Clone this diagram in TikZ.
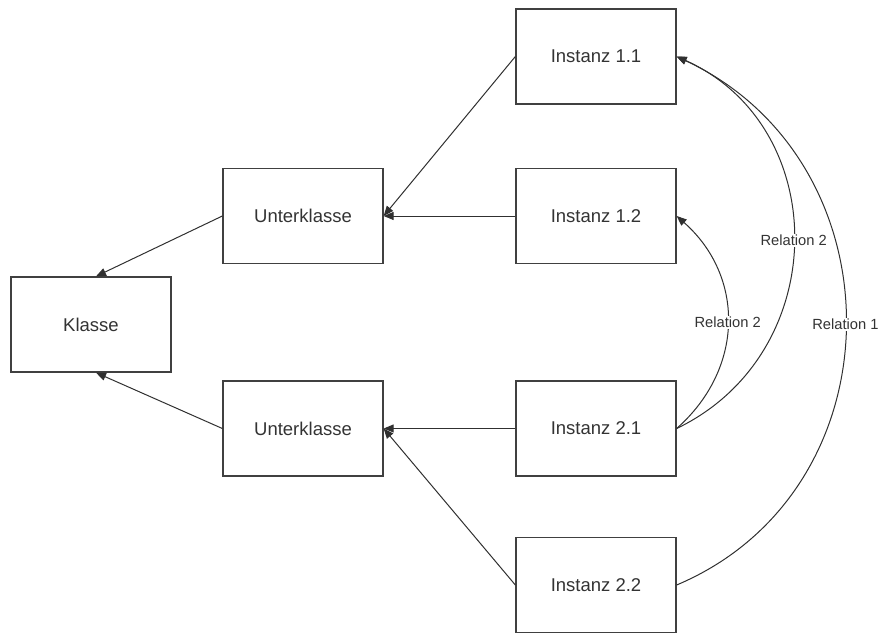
\documentclass[tikz,border=0pt]{standalone}
\usepackage{fontspec}
\setmainfont{Liberation Sans}
\usetikzlibrary{arrows.meta}
\definecolor{boxgray}{HTML}{404040}
\definecolor{linegray}{HTML}{303030}
\definecolor{textgray}{HTML}{333333}
\begin{document}
\begin{tikzpicture}[x=1pt,y=-1pt,
  box/.style={draw=boxgray, line width=1.3pt, minimum width=160pt, minimum height=95pt,
    inner sep=0pt, text=textgray, font=\fontsize{18.5}{22}\selectfont},
  link/.style={draw=linegray, line width=1pt, -{Triangle[length=10pt,width=8pt]}},
  rel/.style={fill=white, inner sep=1pt, text=textgray, font=\fontsize{14.7}{17}\selectfont}]
\useasboundingbox (0,0) rectangle (878,632);

% class hierarchy
\node[box] (k)   at (91,324.5)  {Klasse};
\node[box] (u1)  at (303,216)   {Unterklasse};
\node[box] (u2)  at (303,428.5) {Unterklasse};

% instances
\node[box] (i11) at (596,56.5)  {Instanz 1.1};
\node[box] (i12) at (596,216)   {Instanz 1.2};
\node[box] (i21) at (596,428.5) {Instanz 2.1};
\node[box] (i22) at (596,585)   {Instanz 2.2};

% inheritance / instantiation
\draw[link] (u1.west) -- ([xshift=5pt]k.north);
\draw[link] (u2.west) -- ([xshift=5pt]k.south);
\draw[link] (i11.west) -- (u1.east);
\draw[link] (i12.west) -- (u1.east);
\draw[link] (i21.west) -- (u2.east);
\draw[link] (i22.west) -- (u2.east);

% relations between instances
\draw[link] (i21.east) .. controls +(68,-60) and +(68,60) .. (i12.east)
  node[rel, pos=0.5] {Relation 2};
\draw[link] (i21.east) .. controls +(156,-75) and +(156,70) .. (i11.east)
  node[rel, pos=0.5] {Relation 2};
\draw[link] (i22.east) .. controls +(225,-95) and +(225,105) .. (i11.east)
  node[rel, pos=0.5] {Relation 1};
\end{tikzpicture}
\end{document}
